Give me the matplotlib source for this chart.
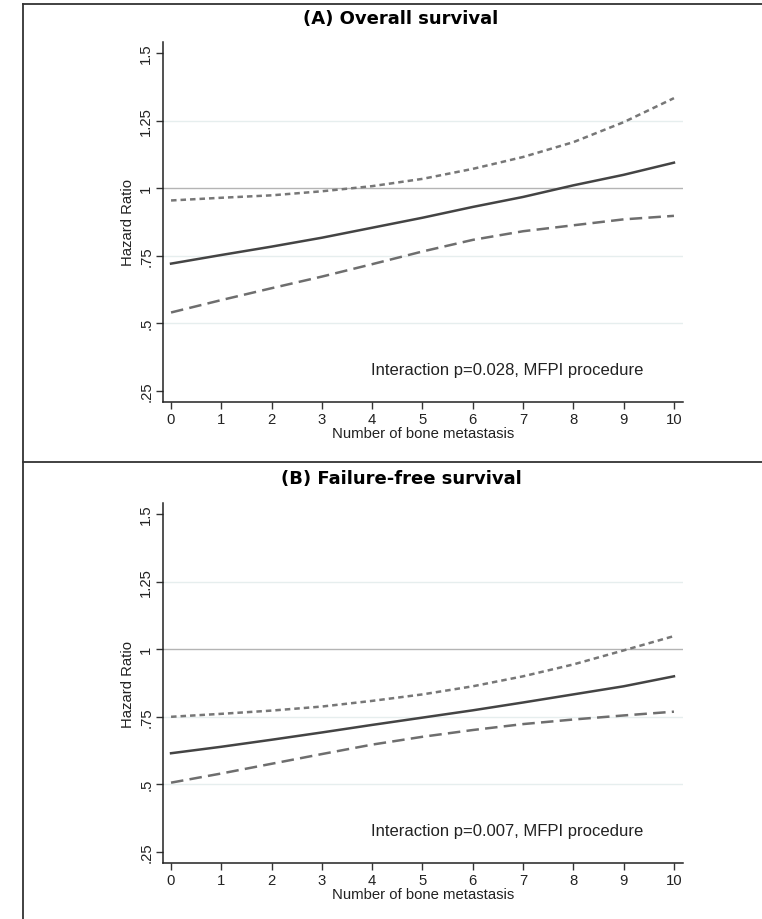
import numpy as np
import matplotlib
matplotlib.use("Agg")
import matplotlib.pyplot as plt
from matplotlib.lines import Line2D

# ---------------------------------------
# DATA
# ---------------------------------------

n_bone_mets = [0, 1, 2, 3, 4, 5, 6, 7, 8, 9, 10]

# (A) Overall survival
os_hr = [0.720, 0.752, 0.783, 0.816, 0.853, 0.890, 0.930, 0.967, 1.010, 1.049, 1.094]
os_upper = [0.954, 0.964, 0.973, 0.988, 1.007, 1.034, 1.071, 1.115, 1.170, 1.244, 1.333]
os_lower = [0.539, 0.585, 0.629, 0.672, 0.718, 0.765, 0.808, 0.840, 0.862, 0.884, 0.897]

# (B) Failure-free survival
ffs_hr = [0.614, 0.638, 0.664, 0.691, 0.719, 0.746, 0.773, 0.802, 0.832, 0.862, 0.899]
ffs_upper = [0.749, 0.760, 0.772, 0.787, 0.808, 0.832, 0.862, 0.899, 0.943, 0.995, 1.048]
ffs_lower = [0.505, 0.539, 0.575, 0.611, 0.646, 0.675, 0.700, 0.722, 0.739, 0.754, 0.768]

titles = ["(A) Overall survival", "(B) Failure-free survival"]
notes = ["Interaction p=0.028, MFPI procedure", "Interaction p=0.007, MFPI procedure"]

y_ticks = [0.25, 0.5, 0.75, 1.0, 1.25, 1.5]
y_tick_labels = [".25", ".5", ".75", "1", "1.25", "1.5"]
x_ticks = list(range(0, 11))

W, H = 762, 920
TEXT_FONT = ["Liberation Sans", "DejaVu Sans"]


def draw_panel(ax, hr, upper, lower, note):
    # grid and reference line
    for g in [0.5, 0.75, 1.25]:
        ax.axhline(g, color="#e6eeee", lw=1.0, zorder=0)
    ax.axhline(1.0, color="#b4b4b4", lw=1.0, zorder=1)

    ax.plot(n_bone_mets, upper, color="#777777", lw=1.8, ls=(0, (2.2, 1.6)), zorder=2)
    ax.plot(n_bone_mets, lower, color="#6e6e6e", lw=1.8, ls=(0, (5, 2.5)), zorder=2)
    ax.plot(n_bone_mets, hr, color="#444444", lw=1.8, zorder=3)

    ax.set_xlim(-0.16, 10.18)
    ax.set_ylim(0.2074, 1.541)

    ax.set_xticks(x_ticks)
    ax.set_xticklabels([str(v) for v in x_ticks], family=TEXT_FONT, fontsize=10.7, color="#222222")
    ax.set_yticks(y_ticks)
    ax.set_yticklabels(y_tick_labels, family=TEXT_FONT, fontsize=10.7, color="#222222",
                       rotation=90, va="center")
    ax.tick_params(axis="both", length=5, width=1, color="#333333", pad=2)

    for side in ["top", "right"]:
        ax.spines[side].set_visible(False)
    for side in ["left", "bottom"]:
        ax.spines[side].set_color("#222222")
        ax.spines[side].set_linewidth(1.1)

    ax.set_xlabel("Number of bone metastasis", family=TEXT_FONT, fontsize=10.7,
                  color="#222222", labelpad=0)
    ax.set_ylabel("Hazard Ratio", family=TEXT_FONT, fontsize=10.7, color="#222222", labelpad=3)

    ax.text(3.98, 0.326, note, family=TEXT_FONT, fontsize=12, color="#222222",
            ha="left", va="center")


fig = plt.figure(figsize=(W / 100, H / 100), dpi=100)

ax_a = fig.add_axes([163 / W, 1 - 403 / H, 520 / W, 360 / H])
ax_b = fig.add_axes([163 / W, 1 - 864 / H, 520 / W, 360 / H])

draw_panel(ax_a, os_hr, os_upper, os_lower, notes[0])
draw_panel(ax_b, ffs_hr, ffs_upper, ffs_lower, notes[1])

# panel titles
fig.text(401 / W, 1 - 19 / H, titles[0], ha="center", va="center",
         fontsize=13, fontweight="bold", family="DejaVu Sans")
fig.text(401 / W, 1 - 479 / H, titles[1], ha="center", va="center",
         fontsize=13, fontweight="bold", family="DejaVu Sans")

# panel borders
border = dict(color="#333333", lw=1.3, transform=fig.transFigure)
fig.add_artist(Line2D([23 / W, 23 / W], [1 - 5 / H, 0], **border))
fig.add_artist(Line2D([23 / W, 1], [1 - 5 / H, 1 - 5 / H], **border))
fig.add_artist(Line2D([23 / W, 1], [1 - 463 / H, 1 - 463 / H], **border))

fig.savefig("out.png", dpi=100)
